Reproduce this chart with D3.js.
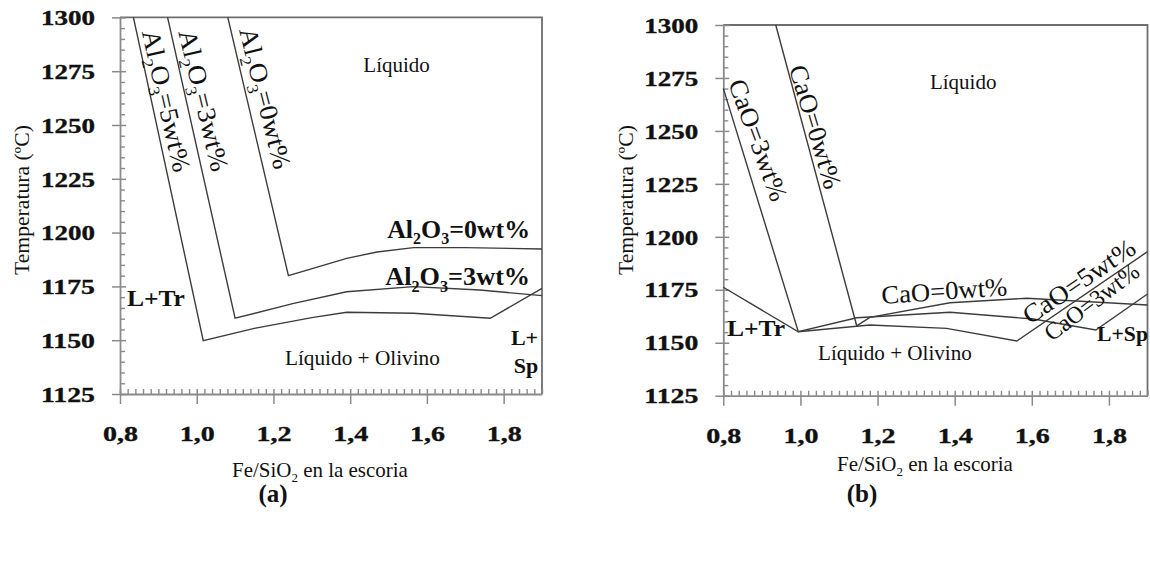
<!DOCTYPE html>
<html>
<head>
<meta charset="utf-8">
<script src="https://cdn.jsdelivr.net/npm/d3@7"></script>
<style>
  html, body { margin: 0; padding: 0; background: #fff; }
  svg { display: block; }
</style>
</head>
<body>
<svg id="fig" width="1150" height="564"></svg>
<script>
// Shared axes: Fe/SiO2 ratio in the slag vs. temperature (°C)
const xDomain = [0.8, 1.9];
const yDomain = [1125, 1300];
const xTickValues = [0.8, 1.0, 1.2, 1.4, 1.6, 1.8];
const yTickValues = [1125, 1150, 1175, 1200, 1225, 1250, 1275, 1300];

// Panel (a): liquidus lines for Al2O3 additions, [Fe/SiO2, T]
const al2o3_0 = [[1.081, 1300], [1.239, 1180], [1.391, 1188], [1.47, 1191], [1.565, 1193], [1.7, 1193], [1.9, 1192.4]];
const al2o3_3 = [[0.924, 1300], [1.100, 1160.2], [1.25, 1167], [1.391, 1172.5], [1.565, 1174.9], [1.738, 1173.3], [1.9, 1170.7]];
const al2o3_5 = [[0.835, 1300], [1.017, 1149.8], [1.15, 1155.5], [1.3, 1160.5], [1.391, 1163], [1.565, 1162.5], [1.765, 1160.2], [1.9, 1174.1]];

// Panel (b): liquidus lines for CaO additions, [Fe/SiO2, T]
const cao_0 = [[0.936, 1300], [1.146, 1158], [1.18, 1162], [1.388, 1168.9], [1.587, 1171], [1.9, 1167.8]];
const cao_3 = [[0.8, 1270.1], [0.9945, 1155.2], [1.146, 1161.8], [1.388, 1164.4], [1.604, 1161.2], [1.766, 1156], [1.9, 1173]];
const cao_5 = [[0.8, 1176.2], [0.9945, 1155.2], [1.18, 1158.4], [1.379, 1156.8], [1.561, 1150.8], [1.9, 1193]];

// Text annotations; "_x" marks a subscript character
const labelsA = [
  { text: "Líquido", v: 1.521, T: 1274.6, size: 21, anchor: "middle" },
  { text: "Líquido + Olivino", v: 1.230, T: 1138.5, size: 21, width: 155 },
  { text: "L+Tr", v: 0.818, T: 1165.9, size: 24, bold: true, width: 58 },
  { text: "L+", v: 1.890, T: 1147.8, size: 22, bold: true, anchor: "end" },
  { text: "Sp", v: 1.890, T: 1134.8, size: 22, bold: true, anchor: "end" },
  { text: "Al_2O_3=0wt%", v: 1.869, T: 1197.5, size: 26, bold: true, anchor: "end", width: 143 },
  { text: "Al_2O_3=3wt%", v: 1.869, T: 1175.6, size: 26, bold: true, anchor: "end", width: 145 },
  { text: "Al_2O_3=5wt%", v: 0.857, T: 1293.2, size: 26, angle: 77.3, width: 145 },
  { text: "Al_2O_3=3wt%", v: 0.952, T: 1293.2, size: 26, angle: 76.6, width: 145 },
  { text: "Al_2O_3=0wt%", v: 1.110, T: 1294.1, size: 26, angle: 75.8, width: 145 }
];
const labelsB = [
  { text: "Líquido", v: 1.422, T: 1269.8, size: 21, anchor: "middle" },
  { text: "Líquido + Olivino", v: 1.0456, T: 1141.8, size: 21, width: 154 },
  { text: "L+Tr", v: 0.8096, T: 1153.2, size: 24, bold: true, width: 58 },
  { text: "L+Sp", v: 1.769, T: 1150.8, size: 22, bold: true, width: 51 },
  { text: "CaO=0wt%", v: 1.2116, T: 1168.3, size: 26, angle: -4, width: 126 },
  { text: "CaO=3wt%", v: 0.8122, T: 1272.6, size: 26, angle: 70, width: 128 },
  { text: "CaO=0wt%", v: 0.970, T: 1279.7, size: 26, angle: 73.5, width: 128 },
  { text: "CaO=5wt%", v: 1.595, T: 1158.4, size: 26, angle: -34, width: 130 },
  { text: "CaO=3wt%", v: 1.652, T: 1150.3, size: 24, angle: -37, width: 112 }
];

// choose the first installed Times-like serif face
function pickFont(cands) {
  const ctx = document.createElement("canvas").getContext("2d");
  const s = "Líquido + Olivino 1234 Temperatura Wm";
  ctx.font = "40px monospace";
  const base = ctx.measureText(s).width;
  for (const f of cands) {
    ctx.font = `40px "${f}", monospace`;
    if (Math.abs(ctx.measureText(s).width - base) > 0.5) return `"${f}"`;
  }
  return "serif";
}
const FONT = pickFont(["Liberation Serif", "Times New Roman", "Tinos", "Nimbus Roman", "Nimbus Roman No9 L", "FreeSerif", "Noto Serif", "DejaVu Serif"]) + ", serif";

const svg = d3.select("#fig");
svg.append("rect").attr("width", 1150).attr("height", 564).attr("fill", "#fff");

const AXIS_COLOR = "#8a8a8a";
const FRAME_COLOR = "#6e6e6e";
const CURVE_COLOR = "#3c3c3c";
const TEXT_COLOR = "#111";

function fitText(node, target) {
  const w = node.getComputedTextLength();
  return w > 0 ? target / w : 1;
}

function addRichText(sel, str, size) {
  const parts = str.split(/_(.)/);
  let lowered = false;
  parts.forEach((p, i) => {
    if (!p) return;
    const ts = sel.append("tspan").text(p);
    if (i % 2 === 1) {
      ts.attr("font-size", size * 0.62).attr("dy", size * 0.25);
      lowered = true;
    } else if (lowered) {
      ts.attr("dy", -size * 0.25);
      lowered = false;
    }
  });
}

function newText(g, size, bold) {
  return g.append("text")
    .attr("font-family", FONT)
    .attr("font-size", size)
    .attr("font-weight", bold ? "bold" : "normal")
    .attr("fill", TEXT_COLOR);
}

function drawPanel(box, curves, labels, caption, yTitleX, xTitle) {
  const g = svg.append("g");
  const x = d3.scaleLinear().domain(xDomain).range([box.left, box.right]);
  const y = d3.scaleLinear().domain(yDomain).range([box.bottom, box.top]);

  // frame: top and right edges
  g.append("path")
    .attr("d", `M${box.left},${box.top}H${box.right}V${box.bottom}`)
    .attr("fill", "none").attr("stroke", FRAME_COLOR).attr("stroke-width", 1.8);

  // minor ticks, pointing into the plot
  const yMinor = y.ticks(35).filter(t => !yTickValues.includes(t));
  const xMinor = x.ticks(55).filter(t => !xTickValues.some(m => Math.abs(m - t) < 1e-6));
  const yMinorG = g.append("g").attr("transform", `translate(${box.left},0)`)
    .call(d3.axisRight(y).tickValues(yMinor).tickSize(5).tickFormat(""));
  const xMinorG = g.append("g").attr("transform", `translate(0,${box.bottom})`)
    .call(d3.axisTop(x).tickValues(xMinor).tickSize(5).tickFormat(""));
  [yMinorG, xMinorG].forEach(a => {
    a.select(".domain").remove();
    a.selectAll(".tick line").attr("stroke", AXIS_COLOR).attr("stroke-width", 1.4);
  });

  // major ticks and labels
  const yAxisG = g.append("g").attr("transform", `translate(${box.left},0)`)
    .call(d3.axisLeft(y).tickValues(yTickValues).tickSize(8).tickSizeOuter(0)
      .tickPadding(17).tickFormat(d3.format("d")));
  const xAxisG = g.append("g").attr("transform", `translate(0,${box.bottom})`)
    .call(d3.axisBottom(x).tickValues(xTickValues).tickSize(10).tickSizeOuter(0)
      .tickFormat(d => d.toFixed(1).replace(".", ",")));
  [yAxisG, xAxisG].forEach(a => {
    a.attr("font-family", FONT);
    a.select(".domain").attr("stroke", AXIS_COLOR).attr("stroke-width", 1.8);
    a.selectAll(".tick line").attr("stroke", AXIS_COLOR).attr("stroke-width", 1.5);
    a.selectAll(".tick text")
      .attr("font-family", FONT)
      .attr("font-size", 20).attr("font-weight", "bold").attr("fill", TEXT_COLOR)
      .attr("stroke", TEXT_COLOR).attr("stroke-width", 0.35);
  });
  yAxisG.selectAll(".tick line").attr("x1", 6);
  xAxisG.selectAll(".tick line").attr("y1", -5);
  yAxisG.selectAll(".tick text").each(function () {
    const t = d3.select(this);
    const sx = fitText(this, 54);
    t.attr("x", 0).attr("dy", "0.36em").attr("transform", `translate(-25,0) scale(${sx},1)`);
  });
  xAxisG.selectAll(".tick text").each(function () {
    const t = d3.select(this);
    const sx = fitText(this, 35);
    t.attr("y", 0).attr("dy", 0).attr("transform", `translate(0,47) scale(${sx},1)`);
  });

  // liquidus lines
  const line = d3.line().x(d => x(d[0])).y(d => y(d[1]));
  g.selectAll("path.curve").data(curves).join("path")
    .attr("class", "curve")
    .attr("d", line)
    .attr("fill", "none").attr("stroke", CURVE_COLOR).attr("stroke-width", 1.4)
    .attr("stroke-linejoin", "miter");

  // annotations
  labels.forEach(lab => {
    const t = newText(g, lab.size, lab.bold).attr("text-anchor", lab.anchor || "start");
    addRichText(t, lab.text, lab.size);
    const sx = lab.width ? fitText(t.node(), lab.width) : 1;
    t.attr("transform", `translate(${x(lab.v)},${y(lab.T)}) rotate(${lab.angle || 0}) scale(${sx},1)`);
  });

  // axis titles
  const yt = newText(g, 20.5, false).attr("text-anchor", "middle").text("Temperatura (ºC)");
  const syt = fitText(yt.node(), 150);
  yt.attr("transform", `translate(${yTitleX},200) rotate(-90) scale(${syt},1)`);

  const xt = newText(g, 21, false).attr("text-anchor", "start");
  addRichText(xt, "Fe/SiO_2 en la escoria", 21);
  const sxt = fitText(xt.node(), 176);
  xt.attr("transform", `translate(${xTitle.x},${xTitle.y}) scale(${sxt},1)`);

  // panel caption
  newText(g, 25, true)
    .attr("text-anchor", "middle")
    .attr("transform", `translate(${caption.x},${caption.y})`)
    .text(caption.text);
}

drawPanel({ left: 120, top: 17.4, right: 542, bottom: 394 },
  [al2o3_0, al2o3_3, al2o3_5], labelsA,
  { text: "(a)", x: 273, y: 502 }, 29, { x: 232, y: 477 });

drawPanel({ left: 723.3, top: 25, right: 1147.5, bottom: 395.7 },
  [cao_0, cao_3, cao_5], labelsB,
  { text: "(b)", x: 862, y: 502 }, 633, { x: 837, y: 471 });
</script>
</body>
</html>
